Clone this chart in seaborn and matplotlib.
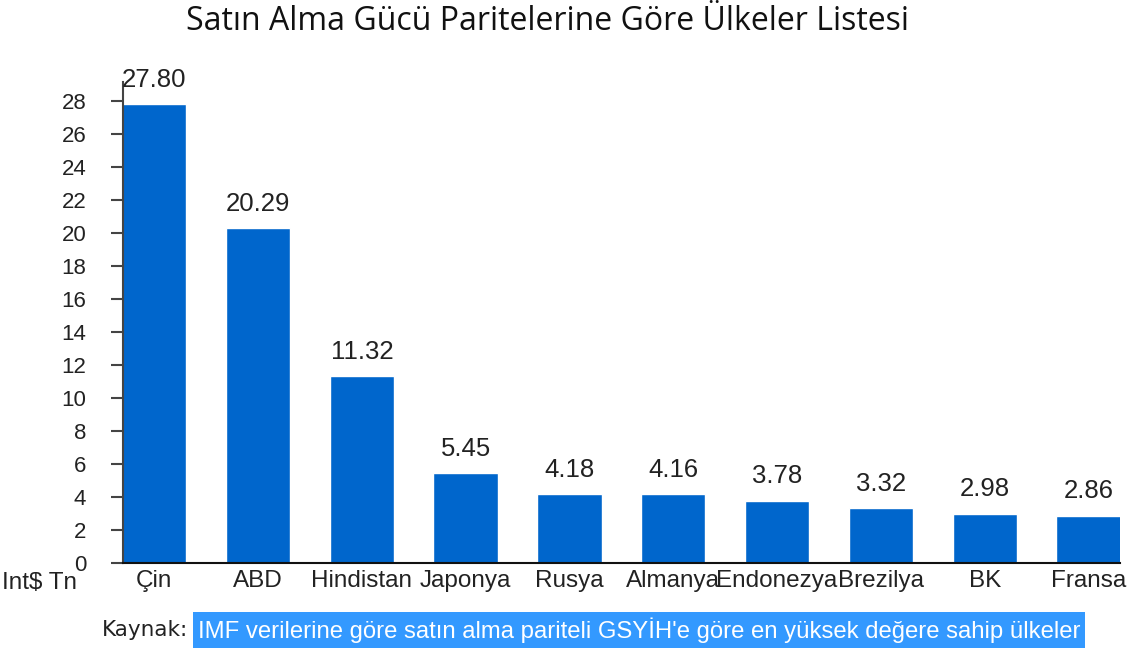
import matplotlib
matplotlib.use("Agg")
import matplotlib.pyplot as plt
import seaborn as sns
import pandas as pd

# Veriler
ulkeler = ["Çin", "ABD", "Hindistan", "Japonya", "Rusya", "Almanya",
           "Endonezya", "Brezilya", "BK", "Fransa"]
degerler = [27.80, 20.29, 11.32, 5.45, 4.18, 4.16, 3.78, 3.32, 2.98, 2.86]
y_ticks = list(range(0, 29, 2))

baslik = "Satın Alma Gücü Paritelerine Göre Ülkeler Listesi"
kaynak = "IMF verilerine göre satın alma pariteli GSYİH'e göre en yüksek değere sahip ülkeler"

df = pd.DataFrame({"ulke": ulkeler, "deger": degerler})

sns.set_style("ticks")
plt.rcParams["font.family"] = ["Liberation Sans", "DejaVu Sans"]

fig = plt.figure(figsize=(11.31, 6.48), dpi=100)
ax = fig.add_axes([0.1088, 0.1312, 0.8812, 0.7423])

sns.barplot(data=df, x="ulke", y="deger", color="#0066CC", saturation=1,
            width=0.62, ax=ax)

ax.bar_label(ax.containers[0], fmt="%.2f", padding=9, fontsize=18.5, color="#222222")

ax.set_xlim(-0.3, 9.3)
ax.set_ylim(0, 29.15)
ax.set_yticks(y_ticks)
ax.set_xlabel("")
ax.set_ylabel("")

ax.tick_params(axis="y", length=8.5, width=1.5, color="#444444", labelsize=16,
               labelcolor="#222222", pad=18)
ax.tick_params(axis="x", length=0, labelsize=17.5, labelcolor="#222222", pad=5)

for s in ["top", "right"]:
    ax.spines[s].set_visible(False)
ax.spines["left"].set_color("#444444")
ax.spines["left"].set_linewidth(1.5)
ax.spines["bottom"].set_color("#111111")
ax.spines["bottom"].set_linewidth(1.5)

# Başlık
fig.text(0.484, 0.967, baslik, ha="center", va="center", fontsize=23,
         family=["Open Sans", "DejaVu Sans"], color="#111111")

# Birim etiketi
fig.text(2 / 1131, 1 - 583 / 648, "Int$ Tn", ha="left", va="center",
         fontsize=17.5, color="#222222")

# Kaynak
fig.text(188 / 1131, 1 - 630 / 648, "Kaynak:", ha="right", va="center",
         fontsize=15.5, family=["DejaVu Sans"], color="#222222")
fig.text(198 / 1131, 1 - 630 / 648, kaynak, ha="left", va="center",
         fontsize=17.2, color="white",
         bbox=dict(boxstyle="square,pad=0.2", facecolor="#3399FF", edgecolor="none"))

fig.savefig("out.png", dpi=100)
